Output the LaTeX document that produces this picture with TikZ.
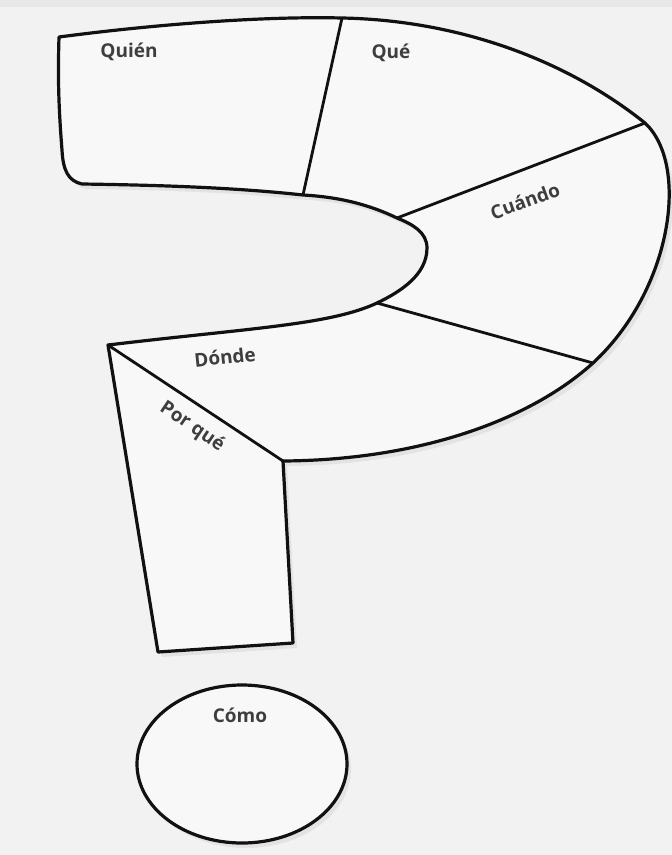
\documentclass[tikz,border=0pt]{standalone}
\usepackage{fontspec}
\setmainfont{Open Sans}
\usetikzlibrary{shadows}
\definecolor{paper}{HTML}{F2F2F2}
\definecolor{band}{HTML}{E8E8E8}
\definecolor{card}{HTML}{F8F8F8}
\definecolor{ink}{HTML}{111111}
\definecolor{label}{HTML}{3E3E3E}

\begin{document}
\begin{tikzpicture}[x=1pt, y=-1pt, part/.style={draw=ink, line width=3.2pt, line join=round, fill=card, drop shadow={opacity=0.13, shadow xshift=4pt, shadow yshift=-5pt}}, cut/.style={draw=ink, line width=2.8pt}, word/.style={font=\bfseries\fontsize{19}{19}\selectfont, text=label, inner sep=0pt}]
\fill[paper] (0,0) rectangle (672,855);
\fill[band] (0,0) rectangle (672,7);
\useasboundingbox (0,0) rectangle (672,855);

% points where the cuts meet the outline
\coordinate (tl) at (59,37);
\coordinate (q1) at (342,18);
\coordinate (q2) at (303,195);
\coordinate (c1) at (645,123);
\coordinate (c2) at (397,218);
\coordinate (d1) at (377,303);
\coordinate (d2) at (593,363);
\coordinate (p1) at (108,345);
\coordinate (p2) at (283,461);

% hook and stem
\path[part] (tl) .. controls (150,25) and (260,16) .. (q1)
  .. controls (450,20) and (560,55) .. (c1)
  .. controls (690,165) and (672,290) .. (d2)
  .. controls (530,420) and (420,460) .. (p2)
  -- (293,643) -- (158,652) -- (p1)
  .. controls (250,328) and (330,325) .. (d1)
  .. controls (400,292) and (427,275) .. (427,248)
  .. controls (427,232) and (412,224) .. (c2)
  .. controls (370,205) and (340,197) .. (q2)
  .. controls (230,187) and (150,185) .. (82,184)
  .. controls (68,181) and (63,170) .. (62,150)
  .. controls (58,100) and (58,70) .. cycle;
\draw[cut] (q1) -- (q2);
\draw[cut] (c1) -- (c2);
\draw[cut] (d1) -- (d2);
\draw[cut] (p1) -- (p2);

% dot
\path[part] (242,764) ellipse [x radius=105pt, y radius=79pt];

\node[word] (quien) at (129,52) {Quién};
\node[word] (que) at (391,53) {Qué};
\node[word, rotate=20] (cuando) at (525,201) {Cuándo};
\node[word, rotate=6] (donde) at (225,357) {Dónde};
\node[word, rotate=-34] (porque) at (192,427) {Por qué};
\node[word] (como) at (240,715) {Cómo};
\end{tikzpicture}
\end{document}
